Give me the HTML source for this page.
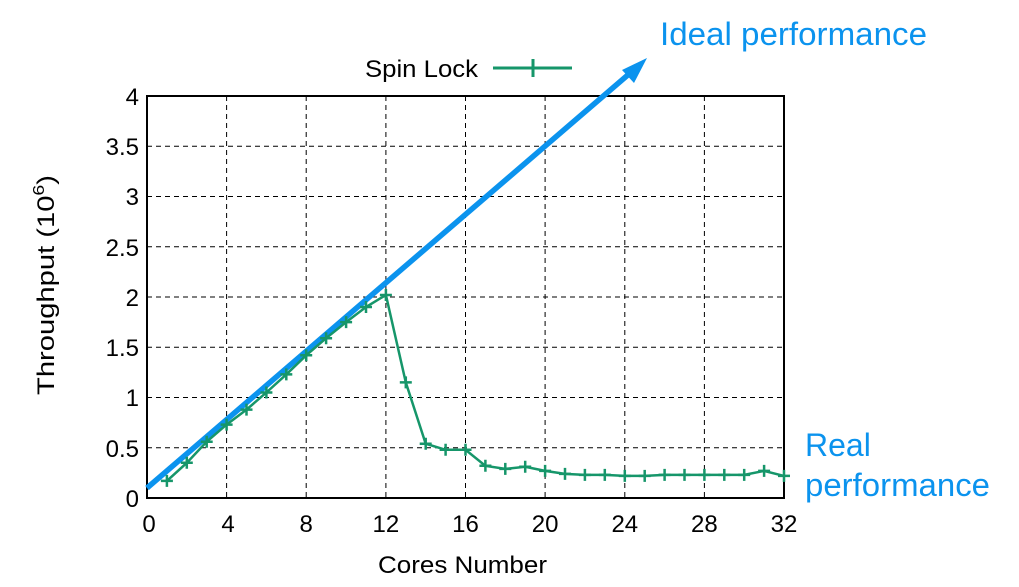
<!DOCTYPE html>
<html><head><style>body{margin:0;background:#fff}svg{display:block}text{font-family:"Liberation Sans",Arial,sans-serif}</style></head><body>
<svg width="1019" height="587" viewBox="0 0 1019 587">
<g stroke="#000" stroke-width="1" stroke-dasharray="5,4">
<line x1="226.6" y1="96" x2="226.6" y2="498"/><line x1="306.2" y1="96" x2="306.2" y2="498"/><line x1="385.9" y1="96" x2="385.9" y2="498"/><line x1="465.5" y1="96" x2="465.5" y2="498"/><line x1="545.1" y1="96" x2="545.1" y2="498"/><line x1="624.8" y1="96" x2="624.8" y2="498"/><line x1="704.4" y1="96" x2="704.4" y2="498"/>
<line x1="147" y1="447.8" x2="784" y2="447.8"/><line x1="147" y1="397.5" x2="784" y2="397.5"/><line x1="147" y1="347.3" x2="784" y2="347.3"/><line x1="147" y1="297" x2="784" y2="297"/><line x1="147" y1="246.8" x2="784" y2="246.8"/><line x1="147" y1="196.5" x2="784" y2="196.5"/><line x1="147" y1="146.3" x2="784" y2="146.3"/>
</g>
<rect x="147" y="96" width="637" height="402" fill="none" stroke="#000" stroke-width="2"/>
<g font-size="24" text-anchor="end">
<text x="139" y="507">0</text><text x="139" y="457">0.5</text><text x="139" y="406">1</text><text x="139" y="356">1.5</text><text x="139" y="306">2</text><text x="139" y="256">2.5</text><text x="139" y="205">3</text><text x="139" y="155">3.5</text><text x="139" y="105">4</text>
</g>
<g font-size="24" text-anchor="middle">
<text x="149" y="532">0</text><text x="228" y="532">4</text><text x="306.2" y="532">8</text><text x="385.9" y="532">12</text><text x="465.5" y="532">16</text><text x="545.1" y="532">20</text><text x="624.8" y="532">24</text><text x="704.4" y="532">28</text><text x="784" y="532">32</text>
</g>
<text x="378" y="573" font-size="24" textLength="169" lengthAdjust="spacingAndGlyphs">Cores Number</text>
<text transform="translate(54,395) rotate(-90)" font-size="24" textLength="220" lengthAdjust="spacingAndGlyphs">Throughput (10<tspan font-size="16" dy="-10">6</tspan><tspan dy="10">)</tspan></text>
<text x="365" y="77" font-size="24" textLength="113" lengthAdjust="spacingAndGlyphs">Spin Lock</text>
<line x1="493" y1="68" x2="572" y2="68" stroke="#16966a" stroke-width="3"/>
<line x1="533" y1="59" x2="533" y2="77" stroke="#16966a" stroke-width="3"/>
<line x1="147" y1="488" x2="636" y2="68" stroke="#0b93ee" stroke-width="5.5"/>
<polygon points="647,58 622,70 634,83" fill="#0b93ee"/>
<polyline fill="none" stroke="#16966a" stroke-width="2.5" points="166.9,480.9 186.8,462.8 206.7,441.7 226.6,424.6 246.5,409.6 266.4,392.5 286.3,374.4 306.2,355.3 326.1,338.2 346.1,322.1 366,307 385.9,295 405.8,382.4 425.7,443.7 445.6,449.8 465.5,449.8 485.4,465.8 505.3,468.9 525.2,466.8 545.1,470.9 565,473.9 584.9,474.9 604.8,474.9 624.8,475.9 644.7,475.9 664.6,474.9 684.5,474.9 704.4,474.9 724.3,474.9 744.2,474.9 764.1,470.9 784,475.9"/>
<g stroke="#16966a" stroke-width="2.5">
<path d="M160.9 480.9h12M166.9 474.9v12M180.8 462.8h12M186.8 456.8v12M200.7 441.7h12M206.7 435.7v12M220.6 424.6h12M226.6 418.6v12M240.5 409.6h12M246.5 403.6v12M260.4 392.5h12M266.4 386.5v12M280.3 374.4h12M286.3 368.4v12M300.2 355.3h12M306.2 349.3v12M320.1 338.2h12M326.1 332.2v12M340.1 322.1h12M346.1 316.1v12M360 307h12M366 301v12M379.9 295h12M385.9 289v12M399.8 382.4h12M405.8 376.4v12M419.7 443.7h12M425.7 437.7v12M439.6 449.8h12M445.6 443.8v12M459.5 449.8h12M465.5 443.8v12M479.4 465.8h12M485.4 459.8v12M499.3 468.9h12M505.3 462.9v12M519.2 466.8h12M525.2 460.8v12M539.1 470.9h12M545.1 464.9v12M559 473.9h12M565 467.9v12M578.9 474.9h12M584.9 468.9v12M598.8 474.9h12M604.8 468.9v12M618.8 475.9h12M624.8 469.9v12M638.7 475.9h12M644.7 469.9v12M658.6 474.9h12M664.6 468.9v12M678.5 474.9h12M684.5 468.9v12M698.4 474.9h12M704.4 468.9v12M718.3 474.9h12M724.3 468.9v12M738.2 474.9h12M744.2 468.9v12M758.1 470.9h12M764.1 464.9v12M778 475.9h12M784 469.9v12"/>
</g>
<g fill="#0b93ee" font-size="32">
<text x="660" y="45" textLength="267" lengthAdjust="spacingAndGlyphs">Ideal performance</text>
<text x="805" y="456">Real</text>
<text x="805" y="496" textLength="185" lengthAdjust="spacingAndGlyphs">performance</text>
</g>
</svg>
</body></html>
